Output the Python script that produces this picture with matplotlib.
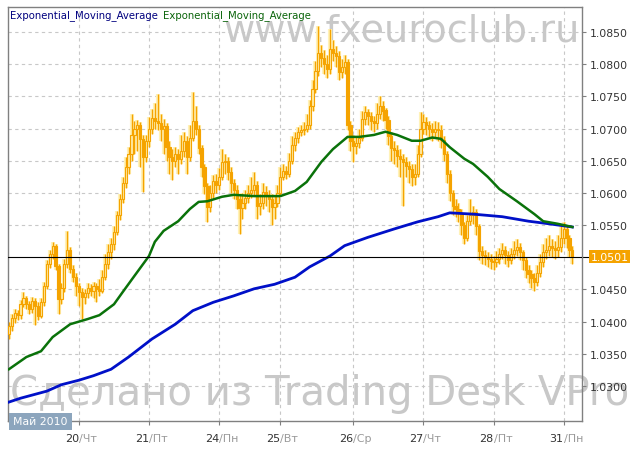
import matplotlib.pyplot as plt
import matplotlib.transforms as mtransforms
from matplotlib.patches import Rectangle
import numpy as np

# EUR/CHF-подобный часовой график, 19-31 мая 2010
closes = [
    1.0393, 1.0405, 1.0414, 1.0410, 1.0428, 1.0436, 1.0428, 1.0420, 1.0432, 1.0425,
    1.0409, 1.0430, 1.0455, 1.0490, 1.0505, 1.0517, 1.0486, 1.0435, 1.0452, 1.0490,
    1.0512, 1.0482, 1.0470, 1.0455, 1.0446, 1.0438, 1.0444, 1.0452, 1.0448, 1.0456,
    1.0450, 1.0448, 1.0470, 1.0490, 1.0508, 1.0520, 1.0540, 1.0565, 1.0590, 1.0615,
    1.0640, 1.0660, 1.0690, 1.0700, 1.0706, 1.0684, 1.0655, 1.0680, 1.0700, 1.0716,
    1.0712, 1.0708, 1.0700, 1.0704, 1.0672, 1.0655, 1.0650, 1.0660, 1.0652, 1.0665,
    1.0680, 1.0655, 1.0685, 1.0712, 1.0700, 1.0670, 1.0640, 1.0610, 1.0578, 1.0600,
    1.0618, 1.0612, 1.0625, 1.0648, 1.0650, 1.0633, 1.0615, 1.0605, 1.0590, 1.0576,
    1.0585, 1.0592, 1.0600, 1.0605, 1.0612, 1.0580, 1.0585, 1.0602, 1.0596, 1.0590,
    1.0578, 1.0585, 1.0600, 1.0625, 1.0634, 1.0630, 1.0650, 1.0675, 1.0685, 1.0695,
    1.0698, 1.0700, 1.0705, 1.0735, 1.0762, 1.0790, 1.0818, 1.0810, 1.0800, 1.0792,
    1.0824, 1.0818, 1.0812, 1.0788, 1.0796, 1.0803, 1.0705, 1.0680, 1.0673, 1.0678,
    1.0685, 1.0715, 1.0726, 1.0719, 1.0712, 1.0708, 1.0722, 1.0735, 1.0728, 1.0714,
    1.0688, 1.0670, 1.0666, 1.0658, 1.0652, 1.0648, 1.0642, 1.0637, 1.0625, 1.0630,
    1.0660, 1.0700, 1.0710, 1.0706, 1.0700, 1.0695, 1.0700, 1.0698, 1.0682, 1.0660,
    1.0630, 1.0600, 1.0580, 1.0575, 1.0568, 1.0550, 1.0530, 1.0556, 1.0565, 1.0570,
    1.0548, 1.0510, 1.0504, 1.0500, 1.0497, 1.0494, 1.0492, 1.0498, 1.0505, 1.0512,
    1.0504, 1.0496, 1.0505, 1.0512, 1.0516, 1.0508, 1.0496, 1.0480, 1.0474, 1.0467,
    1.0462, 1.0476, 1.0492, 1.0508, 1.0512, 1.0517, 1.0514, 1.0512, 1.0516, 1.0530,
    1.0544, 1.0530, 1.0512, 1.0501,
]
opens = [
    1.0380, 1.0393, 1.0405, 1.0414, 1.0410, 1.0428, 1.0436, 1.0428, 1.0420, 1.0432,
    1.0425, 1.0409, 1.0430, 1.0455, 1.0490, 1.0505, 1.0517, 1.0486, 1.0435, 1.0452,
    1.0490, 1.0512, 1.0482, 1.0470, 1.0455, 1.0446, 1.0438, 1.0444, 1.0452, 1.0448,
    1.0456, 1.0450, 1.0448, 1.0470, 1.0490, 1.0508, 1.0520, 1.0540, 1.0565, 1.0590,
    1.0615, 1.0640, 1.0660, 1.0690, 1.0700, 1.0706, 1.0684, 1.0655, 1.0680, 1.0700,
    1.0716, 1.0712, 1.0708, 1.0700, 1.0704, 1.0672, 1.0655, 1.0650, 1.0660, 1.0652,
    1.0665, 1.0680, 1.0655, 1.0685, 1.0712, 1.0700, 1.0670, 1.0640, 1.0610, 1.0578,
    1.0600, 1.0618, 1.0612, 1.0625, 1.0648, 1.0650, 1.0633, 1.0615, 1.0605, 1.0590,
    1.0576, 1.0585, 1.0592, 1.0600, 1.0605, 1.0612, 1.0580, 1.0585, 1.0602, 1.0596,
    1.0590, 1.0578, 1.0585, 1.0600, 1.0625, 1.0634, 1.0630, 1.0650, 1.0675, 1.0685,
    1.0695, 1.0698, 1.0700, 1.0705, 1.0735, 1.0762, 1.0790, 1.0818, 1.0810, 1.0800,
    1.0792, 1.0824, 1.0818, 1.0812, 1.0788, 1.0796, 1.0803, 1.0705, 1.0680, 1.0673,
    1.0678, 1.0685, 1.0715, 1.0726, 1.0719, 1.0712, 1.0708, 1.0722, 1.0735, 1.0728,
    1.0714, 1.0688, 1.0670, 1.0666, 1.0658, 1.0652, 1.0648, 1.0642, 1.0637, 1.0625,
    1.0630, 1.0660, 1.0700, 1.0710, 1.0706, 1.0700, 1.0695, 1.0700, 1.0698, 1.0682,
    1.0660, 1.0630, 1.0600, 1.0580, 1.0575, 1.0568, 1.0550, 1.0530, 1.0556, 1.0565,
    1.0570, 1.0548, 1.0510, 1.0504, 1.0500, 1.0497, 1.0494, 1.0492, 1.0498, 1.0505,
    1.0512, 1.0504, 1.0496, 1.0505, 1.0512, 1.0516, 1.0508, 1.0496, 1.0480, 1.0474,
    1.0467, 1.0462, 1.0476, 1.0492, 1.0508, 1.0512, 1.0517, 1.0514, 1.0512, 1.0516,
    1.0530, 1.0544, 1.0530, 1.0512,
]
highs = [
    1.0399, 1.0412, 1.0420, 1.0418, 1.0434, 1.0446, 1.0440, 1.0432, 1.0438, 1.0436,
    1.0430, 1.0436, 1.0462, 1.0496, 1.0512, 1.0524, 1.0520, 1.0490, 1.0460, 1.0498,
    1.0541, 1.0516, 1.0488, 1.0475, 1.0460, 1.0452, 1.0450, 1.0460, 1.0458, 1.0462,
    1.0460, 1.0466, 1.0480, 1.0505, 1.0520, 1.0530, 1.0548, 1.0572, 1.0598, 1.0625,
    1.0655, 1.0672, 1.0722, 1.0712, 1.0714, 1.0710, 1.0690, 1.0690, 1.0718, 1.0730,
    1.0740, 1.0754, 1.0722, 1.0715, 1.0708, 1.0680, 1.0668, 1.0672, 1.0668, 1.0690,
    1.0695, 1.0688, 1.0705, 1.0757, 1.0735, 1.0705, 1.0675, 1.0645, 1.0615, 1.0612,
    1.0628, 1.0630, 1.0638, 1.0668, 1.0660, 1.0655, 1.0640, 1.0622, 1.0612, 1.0598,
    1.0600, 1.0605, 1.0612, 1.0625, 1.0632, 1.0618, 1.0598, 1.0615, 1.0610, 1.0605,
    1.0598, 1.0595, 1.0612, 1.0640, 1.0645, 1.0642, 1.0662, 1.0688, 1.0695, 1.0702,
    1.0706, 1.0710, 1.0722, 1.0745, 1.0775, 1.0805, 1.0859, 1.0830, 1.0822, 1.0815,
    1.0855, 1.0838, 1.0828, 1.0820, 1.0808, 1.0815, 1.0808, 1.0712, 1.0690, 1.0688,
    1.0700, 1.0728, 1.0735, 1.0730, 1.0725, 1.0720, 1.0740, 1.0751, 1.0742, 1.0732,
    1.0720, 1.0695, 1.0680, 1.0675, 1.0668, 1.0660, 1.0655, 1.0650, 1.0645, 1.0645,
    1.0675, 1.0726, 1.0722, 1.0718, 1.0712, 1.0708, 1.0712, 1.0710, 1.0705, 1.0688,
    1.0665, 1.0635, 1.0605, 1.0590, 1.0585, 1.0575, 1.0555, 1.0565, 1.0590, 1.0580,
    1.0575, 1.0552, 1.0518, 1.0512, 1.0508, 1.0505, 1.0502, 1.0510, 1.0515, 1.0522,
    1.0518, 1.0510, 1.0515, 1.0525, 1.0528, 1.0522, 1.0512, 1.0500, 1.0488, 1.0480,
    1.0475, 1.0488, 1.0505, 1.0520, 1.0530, 1.0535, 1.0528, 1.0525, 1.0535, 1.0548,
    1.0555, 1.0550, 1.0535, 1.0518,
]
lows = [
    1.0373, 1.0386, 1.0398, 1.0402, 1.0404, 1.0422, 1.0420, 1.0412, 1.0414, 1.0395,
    1.0402, 1.0405, 1.0425, 1.0450, 1.0484, 1.0498, 1.0480, 1.0412, 1.0428, 1.0446,
    1.0484, 1.0475, 1.0462, 1.0440, 1.0425, 1.0404, 1.0428, 1.0436, 1.0440, 1.0436,
    1.0430, 1.0440, 1.0444, 1.0464, 1.0482, 1.0498, 1.0512, 1.0535, 1.0558, 1.0584,
    1.0608, 1.0630, 1.0650, 1.0660, 1.0665, 1.0640, 1.0601, 1.0648, 1.0672, 1.0692,
    1.0700, 1.0698, 1.0680, 1.0660, 1.0650, 1.0630, 1.0620, 1.0640, 1.0630, 1.0645,
    1.0655, 1.0630, 1.0650, 1.0680, 1.0690, 1.0660, 1.0625, 1.0598, 1.0555, 1.0570,
    1.0592, 1.0600, 1.0605, 1.0620, 1.0630, 1.0620, 1.0600, 1.0590, 1.0575, 1.0536,
    1.0560, 1.0575, 1.0585, 1.0592, 1.0595, 1.0560, 1.0565, 1.0575, 1.0580, 1.0570,
    1.0550, 1.0560, 1.0578, 1.0595, 1.0620, 1.0622, 1.0625, 1.0645, 1.0665, 1.0678,
    1.0688, 1.0690, 1.0695, 1.0700, 1.0728, 1.0755, 1.0782, 1.0795, 1.0785, 1.0778,
    1.0785, 1.0805, 1.0795, 1.0775, 1.0778, 1.0785, 1.0698, 1.0665, 1.0648, 1.0660,
    1.0670, 1.0680, 1.0705, 1.0705, 1.0698, 1.0695, 1.0700, 1.0715, 1.0712, 1.0700,
    1.0675, 1.0650, 1.0645, 1.0640, 1.0625, 1.0580, 1.0625, 1.0615, 1.0610, 1.0612,
    1.0625, 1.0655, 1.0692, 1.0690, 1.0685, 1.0680, 1.0685, 1.0680, 1.0670, 1.0650,
    1.0615, 1.0588, 1.0565, 1.0562, 1.0555, 1.0535, 1.0520, 1.0525, 1.0550, 1.0552,
    1.0535, 1.0495, 1.0490, 1.0488, 1.0485, 1.0482, 1.0480, 1.0485, 1.0490, 1.0498,
    1.0490, 1.0485, 1.0490, 1.0498, 1.0502, 1.0495, 1.0480, 1.0468, 1.0460, 1.0452,
    1.0448, 1.0455, 1.0470, 1.0485, 1.0498, 1.0502, 1.0500, 1.0498, 1.0500, 1.0508,
    1.0520, 1.0515, 1.0500, 1.0490,
]

# Две EMA (точки: номер бара, значение)
ema_fast_idx = [0, 6, 11, 15, 21, 27, 31, 36, 39, 43, 48, 50, 53, 58, 62, 65, 68, 73,
                77, 84, 89, 93, 98, 102, 107, 111, 116, 120, 125, 129, 133, 138, 141,
                145, 148, 151, 156, 159, 164, 168, 174, 180, 183, 188, 193]
ema_fast = [1.0326, 1.0345, 1.0354, 1.0376, 1.0396, 1.0404, 1.0410, 1.0427, 1.0446,
            1.0471, 1.0502, 1.0524, 1.0541, 1.0556, 1.0575, 1.0586, 1.0587, 1.0594,
            1.0597, 1.0595, 1.0595, 1.0595, 1.0603, 1.0617, 1.0648, 1.0668, 1.0687,
            1.0687, 1.0690, 1.0695, 1.0690, 1.0681, 1.0681, 1.0686, 1.0684, 1.0671,
            1.0653, 1.0645, 1.0625, 1.0606, 1.0587, 1.0567, 1.0556, 1.0552, 1.0547]
ema_slow_idx = [0, 4, 13, 18, 24, 29, 35, 41, 49, 57, 63, 70, 77, 84, 91, 98, 103,
                110, 115, 123, 132, 140, 147, 151, 159, 169, 178, 185, 193]
ema_slow = [1.0275, 1.0281, 1.0292, 1.0302, 1.0309, 1.0316, 1.0326, 1.0345, 1.0373,
            1.0396, 1.0417, 1.0430, 1.0440, 1.0451, 1.0458, 1.0469, 1.0485, 1.0502,
            1.0518, 1.0531, 1.0544, 1.0555, 1.0563, 1.0569, 1.0567, 1.0563, 1.0556,
            1.0552, 1.0547]

last_price = 1.0501
day_pos = [24, 48, 72, 93, 118, 142, 166, 190]
day_num = ['20', '21', '24', '25', '26', '27', '28', '31']
day_name = ['/Чт', '/Пт', '/Пн', '/Вт', '/Ср', '/Чт', '/Пт', '/Пн']
price_ticks = [1.0300, 1.0350, 1.0400, 1.0450, 1.0550, 1.0600,
               1.0650, 1.0700, 1.0750, 1.0800, 1.0850]

W, H = 636, 452
fig = plt.figure(figsize=(W / 100, H / 100), dpi=100)
fig.patch.set_facecolor('white')
ax = fig.add_axes([8 / W, 30 / H, 574 / W, 414 / H])
ax.set_facecolor('none')

# водяные знаки позади графика
fig.text(580 / W, 1 - 42 / H, 'www.fxeuroclub.ru', ha='right', va='baseline',
         fontsize=27.5, color='#C8C8C8', family='DejaVu Sans', zorder=-5)
fig.text(10 / W, 1 - 405 / H, 'Сделано из Trading Desk VPro', ha='left', va='baseline',
         fontsize=29, color='#C8C8C8', family='DejaVu Sans', zorder=-5)

o = np.array(opens)
c = np.array(closes)
hi = np.array(highs)
lo = np.array(lows)
x = np.arange(len(c))

orange = '#F5A300'
# свечи: светлый ореол, тени, тела
ax.vlines(x, lo, hi, color='#FFF2B8', lw=3.0, zorder=2)
ax.vlines(x, lo, hi, color=orange, lw=1.0, zorder=3)
up = c >= o
body_lo = np.minimum(o, c)
body_h = np.maximum(np.abs(c - o), 0.00008)
ax.bar(x[up], body_h[up], bottom=body_lo[up], width=0.75, color='#FFE9A0',
       edgecolor=orange, lw=0.8, zorder=4)
ax.bar(x[~up], body_h[~up], bottom=body_lo[~up], width=0.75, color=orange,
       edgecolor=orange, lw=0.8, zorder=4)

ax.plot(ema_slow_idx, ema_slow, color='#0010C8', lw=2.0, zorder=5)
ax.plot(ema_fast_idx, ema_fast, color='#0A720A', lw=1.8, zorder=6)

ax.axhline(last_price, color='black', lw=0.8, zorder=7)

ax.set_xlim(-0.3, 196.3)
ax.set_ylim(1.02456, 1.08888)

for s in ax.spines.values():
    s.set_color('#808080')
    s.set_linewidth(1.0)

ax.yaxis.tick_right()
ax.set_yticks(price_ticks)
ax.set_yticklabels([f'{v:.4f}' for v in price_ticks])
ax.tick_params(axis='y', length=3, width=0.8, color='#808080', pad=2.5,
               labelsize=7.8, labelcolor='#333333')
ax.set_xticks(day_pos)
ax.set_xticklabels([])
ax.tick_params(axis='x', length=3, width=0.8, color='#808080')
ax.grid(True, color='#C8C8C8', linestyle=(0, (3, 3)), lw=0.8, zorder=1)

# подписи дней в два цвета
tr = mtransforms.blended_transform_factory(ax.transData, ax.transAxes)
for p, n, d in zip(day_pos, day_num, day_name):
    ax.text(p, -0.042, n, transform=tr, ha='right', va='center',
            fontsize=8, color='#333333', clip_on=False)
    ax.text(p, -0.042, d, transform=tr, ha='left', va='center',
            fontsize=8, color='#9A9A9A', clip_on=False)

# метка последней цены
try_ = mtransforms.blended_transform_factory(ax.transAxes, ax.transData)
ax.plot([1.0, 1.0 + 8 / 574], [last_price, last_price], transform=try_,
        color='black', lw=0.8, clip_on=False)
ax.text(1.0 + 8.5 / 574, last_price, f'{last_price:.4f}', transform=try_,
        ha='left', va='center', fontsize=7.8, color='white', clip_on=False,
        bbox=dict(boxstyle='square,pad=0.15', fc=orange, ec='none'))

# легенда
fig.text(10 / W, 1 - 16 / H, 'Exponential_Moving_Average', ha='left', va='center',
         fontsize=7.3, color='#00007F')
fig.text(163 / W, 1 - 16 / H, 'Exponential_Moving_Average', ha='left', va='center',
         fontsize=7.3, color='#0A640A')

# плашка с месяцем
fig.patches.append(Rectangle((9 / W, 1 - 431 / H), 63 / W, 17 / H,
                             transform=fig.transFigure, fc='#8CA5BD', ec='none',
                             zorder=10))
fig.text(40.5 / W, 1 - 422.5 / H, 'Май 2010', ha='center', va='center',
         fontsize=7.8, color='white', zorder=11)

fig.savefig('out.png', dpi=100)
